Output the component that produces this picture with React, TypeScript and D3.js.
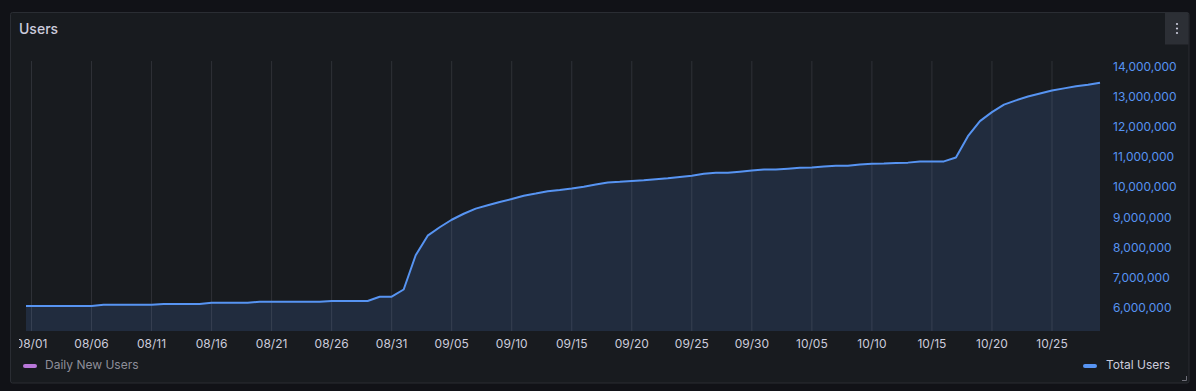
import React from "react";
import * as d3 from "d3";

const title = "Users";
const dates = [
  "2024-07-31",
  "2024-08-01","2024-08-02","2024-08-03","2024-08-04","2024-08-05","2024-08-06","2024-08-07","2024-08-08","2024-08-09","2024-08-10",
  "2024-08-11","2024-08-12","2024-08-13","2024-08-14","2024-08-15","2024-08-16","2024-08-17","2024-08-18","2024-08-19","2024-08-20",
  "2024-08-21","2024-08-22","2024-08-23","2024-08-24","2024-08-25","2024-08-26","2024-08-27","2024-08-28","2024-08-29","2024-08-30",
  "2024-08-31","2024-09-01","2024-09-02","2024-09-03","2024-09-04","2024-09-05","2024-09-06","2024-09-07","2024-09-08","2024-09-09",
  "2024-09-10","2024-09-11","2024-09-12","2024-09-13","2024-09-14","2024-09-15","2024-09-16","2024-09-17","2024-09-18","2024-09-19",
  "2024-09-20","2024-09-21","2024-09-22","2024-09-23","2024-09-24","2024-09-25","2024-09-26","2024-09-27","2024-09-28","2024-09-29",
  "2024-09-30","2024-10-01","2024-10-02","2024-10-03","2024-10-04","2024-10-05","2024-10-06","2024-10-07","2024-10-08","2024-10-09",
  "2024-10-10","2024-10-11","2024-10-12","2024-10-13","2024-10-14","2024-10-15","2024-10-16","2024-10-17","2024-10-18","2024-10-19",
  "2024-10-20","2024-10-21","2024-10-22","2024-10-23","2024-10-24","2024-10-25","2024-10-26","2024-10-27","2024-10-28","2024-10-29",
];
// Total users, in millions
const totalUsers = [
  6.05,
  6.05, 6.05, 6.05, 6.05, 6.05, 6.05, 6.09, 6.09, 6.09, 6.09,
  6.09, 6.12, 6.12, 6.12, 6.12, 6.16, 6.16, 6.16, 6.16, 6.19,
  6.19, 6.19, 6.19, 6.19, 6.19, 6.22, 6.22, 6.22, 6.22, 6.36,
  6.36, 6.60, 7.74, 8.39, 8.67, 8.92, 9.12, 9.29, 9.40, 9.51,
  9.61, 9.72, 9.79, 9.87, 9.91, 9.96, 10.02, 10.09, 10.16, 10.18,
  10.21, 10.23, 10.27, 10.30, 10.34, 10.38, 10.45, 10.48, 10.48, 10.52,
  10.56, 10.59, 10.59, 10.62, 10.65, 10.66, 10.69, 10.72, 10.72, 10.76,
  10.78, 10.79, 10.81, 10.82, 10.86, 10.86, 10.86, 10.99, 11.70, 12.20,
  12.50, 12.75, 12.89, 13.02, 13.12, 13.22, 13.29, 13.36, 13.41, 13.48,
];
const xTickDates = [
  "2024-08-01","2024-08-06","2024-08-11","2024-08-16","2024-08-21","2024-08-26","2024-08-31",
  "2024-09-05","2024-09-10","2024-09-15","2024-09-20","2024-09-25","2024-09-30",
  "2024-10-05","2024-10-10","2024-10-15","2024-10-20","2024-10-25",
];
const yTicks = [6, 7, 8, 9, 10, 11, 12, 13, 14];
const legendItems = ["Daily New Users", "Total Users"];

const parse = (s: string) => {
  const [y, m, d] = s.split("-").map(Number);
  return new Date(y, m - 1, d);
};

export default function App() {
  const W = 1196, H = 391;
  const plotL = 26, plotR = 1100, plotT = 61, plotB = 331;
  const start = new Date(2024, 6, 31, 13, 0);
  const end = parse("2024-10-29");
  const x = d3.scaleTime().domain([start, end]).range([plotL, plotR]);
  const y = d3.scaleLinear().domain([5.22, 14.2]).range([plotB, plotT]);
  const pts = dates.map((d, i) => ({ t: parse(d), v: totalUsers[i] }));
  const line = d3.line<any>().x((p) => x(p.t)).y((p) => y(p.v));
  const area = d3.area<any>().x((p) => x(p.t)).y0(plotB).y1((p) => y(p.v));
  const fmtX = d3.timeFormat("%m/%d");
  const fmtY = d3.format(",");
  const blue = "#5794F2";
  const font = "Inter, 'Noto Sans', sans-serif";

  return (
    <svg width={W} height={H} style={{ position: "absolute", left: 0, top: 0, fontFamily: font }}>
      <defs>
        <clipPath id="plotClip">
          <rect x={plotL} y={plotT - 5} width={plotR - plotL + 2} height={plotB - plotT + 5} />
        </clipPath>
        <clipPath id="xLabClip">
          <rect x={19} y={330} width={1100} height={30} />
        </clipPath>
      </defs>
      <rect x={0} y={0} width={W} height={H} fill="#111217" />
      <rect x={10.5} y={12.5} width={1178.5} height={370.5} rx={2} fill="#181b1f" stroke="#2a2d33" />
      <text x={19} y={34} fill="#ccccdc" fontSize={14} fontWeight={500}>{title}</text>
      {/* menu button */}
      <rect x={1165} y={13} width={23.5} height={31.5} fill="#2c2f35" />
      {[24, 28.5, 33].map((cy) => (
        <circle key={cy} cx={1177} cy={cy} r={1.1} fill="#ccccdc" />
      ))}
      {/* area + line */}
      <g clipPath="url(#plotClip)">
        <path d={area(pts) || ""} fill={blue} fillOpacity={0.15} />
        {xTickDates.map((d) => (
          <line key={d} x1={x(parse(d))} x2={x(parse(d))} y1={plotT} y2={plotB}
            stroke="rgba(204,204,220,0.13)" strokeWidth={1} />
        ))}
        <path d={line(pts) || ""} fill="none" stroke={blue} strokeWidth={2} strokeLinejoin="round" />
      </g>
      {/* x labels */}
      <g clipPath="url(#xLabClip)">
        {xTickDates.map((d) => (
          <text key={d} x={x(parse(d))} y={348} fill="#ccccdc" fontSize={12} textAnchor="middle">
            {fmtX(parse(d))}
          </text>
        ))}
      </g>
      {/* y labels */}
      {yTicks.map((v) => (
        <text key={v} x={1113} y={y(v)} dy="0.35em" fill={blue} fontSize={12}>
          {fmtY(v * 1e6)}
        </text>
      ))}
      {/* legend */}
      <rect x={23} y={364} width={14} height={4} rx={2} fill="#B877D9" />
      <text x={45} y={365} dy="0.35em" fill="#8e8e99" fontSize={12}>{legendItems[0]}</text>
      <rect x={1083} y={364} width={14} height={4} rx={2} fill={blue} />
      <text x={1106} y={365} dy="0.35em" fill="#ccccdc" fontSize={12}>{legendItems[1]}</text>
      {/* resize handle */}
      <path d="M1186.5,376 L1186.5,380.5 L1182,380.5" fill="none" stroke="#6e6e78" strokeWidth={1} />
    </svg>
  );
}
